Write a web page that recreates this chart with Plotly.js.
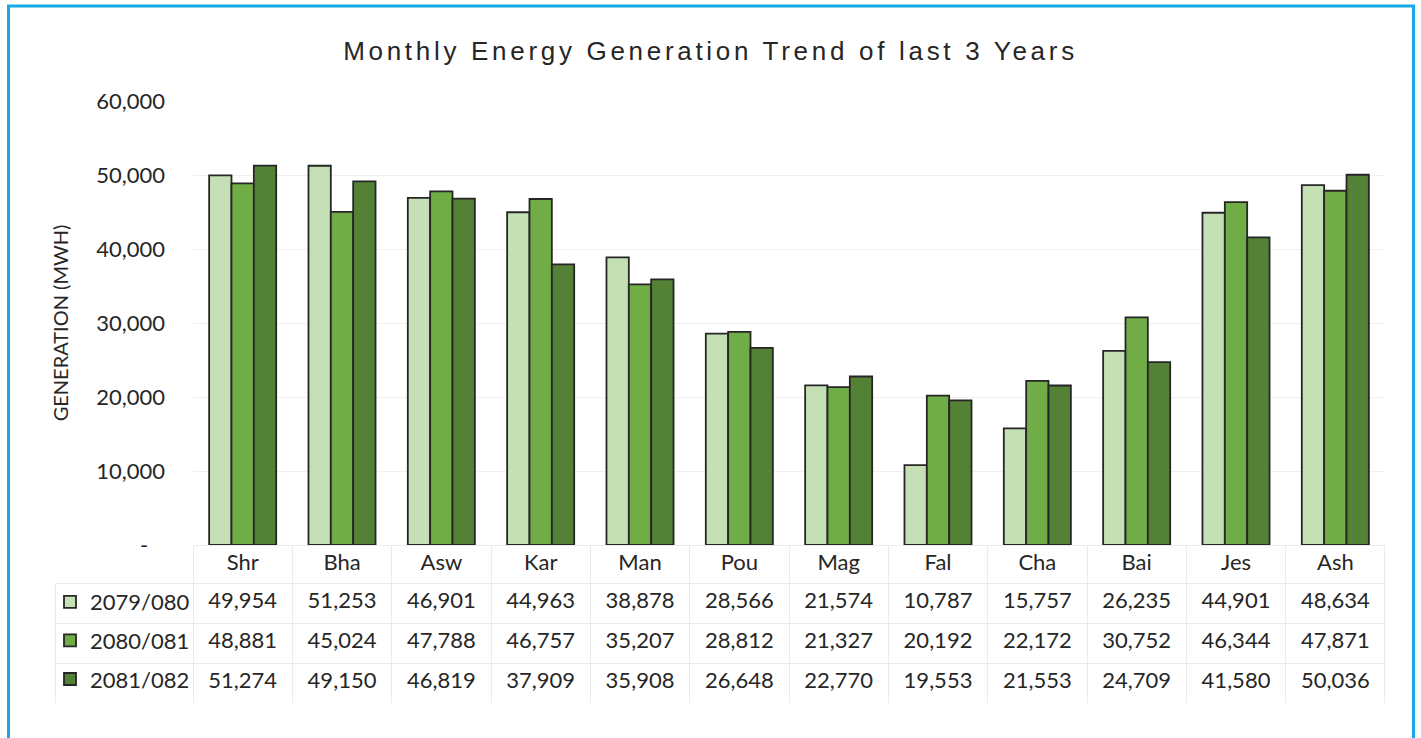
<!DOCTYPE html>
<html>
<head>
<meta charset="utf-8">
<script src="https://cdn.plot.ly/plotly-3.0.1.min.js"></script>
<style>
  body { margin: 0; background: #fff; }
  #myDiv .gtitle { letter-spacing: 3.7px; }
</style>
</head>
<body>
<div id="myDiv"></div>
<script>
// Monthly energy generation, last 3 fiscal years
var months = ["Shr", "Bha", "Asw", "Kar", "Man", "Pou", "Mag", "Fal", "Cha", "Bai", "Jes", "Ash"];

var years = ["2079/080", "2080/081", "2081/082"];

var gen_2079 = [49954, 51253, 46901, 44963, 38878, 28566, 21574, 10787, 15757, 26235, 44901, 48634];
var gen_2080 = [48881, 45024, 47788, 46757, 35207, 28812, 21327, 20192, 22172, 30752, 46344, 47871];
var gen_2081 = [51274, 49150, 46819, 37909, 35908, 26648, 22770, 19553, 21553, 24709, 41580, 50036];

var yTickVals = [0, 10000, 20000, 30000, 40000, 50000, 60000];
var yTickText = ["-\u00a0\u00a0\u00a0", "10,000", "20,000", "30,000", "40,000", "50,000", "60,000"];

var colors = ['#c5e0b4', '#70ad47', '#538135'];
var series = [gen_2079, gen_2080, gen_2081];

var data = [];
for (var i = 0; i < series.length; i++) {
  data.push({
    x: months,
    y: series[i],
    name: years[i],
    type: 'bar',
    legendgroup: 'g' + i,
    marker: {
      color: colors[i],
      line: {color: '#262626', width: 1.8}
    },
    hoverinfo: 'x+y+name'
  });
}

// data table under the chart
var headerVals = [''].concat(months);
var cellVals = [['', '', '']];
for (var k = 0; k < months.length; k++) {
  cellVals.push([gen_2079[k], gen_2080[k], gen_2081[k]]);
}
var colWidths = [138];
var headerLine = ['rgba(0,0,0,0)'];
var headerFill = ['rgba(0,0,0,0)'];
for (var k = 0; k < months.length; k++) {
  colWidths.push(99.33);
  headerLine.push('#ebebeb');
  headerFill.push('#ffffff');
}

data.push({
  type: 'table',
  domain: {x: [0, 1], y: [0, 158 / 602]},
  columnwidth: colWidths,
  header: {
    values: headerVals,
    align: 'center',
    height: 38,
    fill: {color: headerFill},
    line: {color: headerLine, width: 1},
    font: {family: 'Lato', size: 22, color: '#262626'}
  },
  cells: {
    values: cellVals,
    format: [''].concat(months.map(function () { return ',d'; })),
    align: 'center',
    height: 40,
    fill: {color: '#ffffff'},
    line: {color: '#ebebeb', width: 1},
    font: {family: 'Lato', size: 22, color: '#262626'}
  }
});

var layout = {
  width: 1421,
  height: 738,
  margin: {l: 55, r: 36, t: 101, b: 35},
  paper_bgcolor: '#ffffff',
  plot_bgcolor: '#ffffff',
  font: {family: 'Lato', size: 22, color: '#262626'},
  title: {
    text: 'Monthly Energy Generation Trend of last 3 Years',
    font: {family: 'Liberation Sans', size: 26, color: '#262626'},
    x: 0.5,
    xref: 'container',
    y: 1 - 51 / 738,
    yref: 'container',
    yanchor: 'middle'
  },
  barmode: 'group',
  bargap: 0.325,
  bargroupgap: 0,
  xaxis: {
    domain: [138 / 1330, 1],
    showticklabels: false,
    showgrid: false,
    showline: false,
    zeroline: false,
    fixedrange: true
  },
  yaxis: {
    domain: [158 / 602, 1],
    range: [0, 60000],
    tickvals: yTickVals,
    ticktext: yTickText,
    ticklabelstandoff: 27,
    showgrid: true,
    gridcolor: '#f0f0f0',
    gridwidth: 1,
    showline: false,
    zeroline: false,
    automargin: false,
    tickfont: {family: 'Lato', size: 22, color: '#262626'},
    title: {
      text: 'GENERATION (MWH)',
      font: {family: 'Lato', size: 20, color: '#262626'},
      standoff: 22
    }
  },
  showlegend: true,
  legend: {
    x: -5 / 1330,
    xanchor: 'left',
    y: (703 - 581) / 602,
    yanchor: 'top',
    traceorder: 'grouped',
    tracegroupgap: 7,
    bgcolor: 'rgba(0,0,0,0)',
    font: {family: 'Lato', size: 22, color: '#262626'}
  },
  shapes: [{
    type: 'rect',
    xref: 'paper',
    yref: 'paper',
    x0: (8.5 - 55) / 1330,
    x1: (1413.5 - 55) / 1330,
    y0: (703 - 745) / 602,
    y1: (703 - 6) / 602,
    line: {color: '#16a9e5', width: 3},
    layer: 'above'
  }]
};

Plotly.newPlot('myDiv', data, layout, {displayModeBar: false});
</script>
</body>
</html>
